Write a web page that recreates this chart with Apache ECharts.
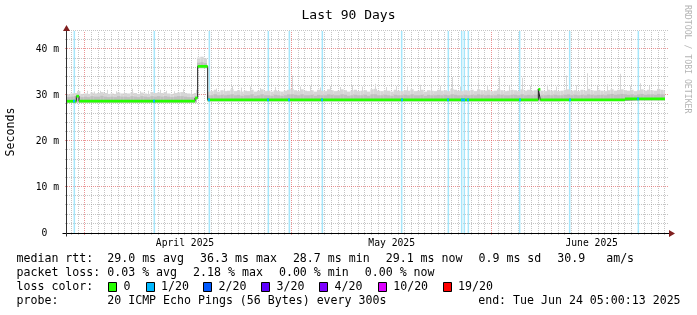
<!DOCTYPE html>
<html><head><meta charset="utf-8">
<script src="https://cdn.jsdelivr.net/npm/echarts@6/dist/echarts.min.js"></script>
<style>html,body{margin:0;padding:0;background:#fff}#c{width:697px;height:315px}</style>
</head><body><div id="c"></div><script>
// ---------------- data (x in days since graph start, y in ms) ----------------
const monthLabels = ['April 2025', 'May 2025', 'June 2025'];
const monthLabelDays = [17.7, 48.7, 78.7];
const monthLineDays = [2.6, 33.6, 63.6];
const yTickVals = [0, 10, 20, 30, 40];
const lossDays = [1.1, 13.1, 21.35, 30.2, 33.35, 38.3, 50.2, 57.2, 59.2, 59.6, 60.2, 67.9, 75.4, 85.7];
const medTimes = [0, 1.4, 1.8, 19.2, 19.6, 21.1, 70.7, 71.0, 83.7, 89.7];
const medVals  = [28.7, 29.8, 28.7, 29.4, 36.3, 29.0, 31.3, 29.0, 29.2, 29.2];
// smoke, half-day bins
const smokeHi = [
30.2,30.4,30.5,30.9,30.3,30.4,30.3,30.6,30.4,30.5,30.7,30.5,30.3,30.4,30.3,30.6,30.4,30.5,30.4,30.6,
30.5,30.3,30.6,30.4,30.3,30.7,30.5,30.6,30.5,30.7,30.4,30.3,30.5,30.6,30.7,30.5,30.4,30.3,30.5,38.2,
38.4,38.0,30.8,30.9,31.2,30.8,31.1,30.9,31.0,31.3,30.9,31.1,30.8,31.0,30.9,31.2,30.8,31.0,31.3,30.9,
31.0,30.8,31.1,30.9,30.8,31.0,31.2,31.4,31.1,30.9,31.3,31.0,30.9,31.1,30.8,31.2,31.0,30.9,31.3,31.1,
30.9,31.0,31.3,31.1,30.8,31.0,31.2,30.9,31.0,31.1,30.8,31.3,31.4,31.0,30.9,31.1,31.0,30.8,31.2,31.0,
30.9,31.1,31.0,31.3,30.9,31.0,31.2,30.8,31.1,31.0,30.9,31.2,31.0,31.1,30.9,31.4,31.2,31.0,30.9,31.1,
31.0,31.2,30.9,31.3,31.1,31.0,31.2,30.9,31.0,31.3,31.1,30.9,31.0,31.2,31.1,30.9,31.3,31.0,31.2,31.0,
31.1,31.4,31.0,30.9,31.2,31.0,31.1,30.9,31.0,31.2,31.3,31.0,31.1,30.9,31.2,31.0,31.4,31.1,31.0,31.2,
31.0,30.9,31.1,31.3,31.0,31.2,31.3,31.1,31.0,31.2,30.9,31.1,31.3,31.0,31.2,31.1,31.0,31.4,31.2,31.0];
const smokeMid = [
29.6,29.7,29.8,29.9,29.6,29.7,29.6,29.8,29.7,29.7,29.9,29.7,29.6,29.7,29.6,29.8,29.7,29.7,29.6,29.8,
29.7,29.6,29.8,29.7,29.6,29.8,29.7,29.8,29.7,29.8,29.7,29.6,29.7,29.8,29.8,29.7,29.6,29.6,29.7,37.1,
37.2,37.0,30.0,30.0,30.2,30.0,30.1,30.0,30.1,30.2,30.0,30.1,29.9,30.0,30.0,30.2,29.9,30.0,30.2,30.0,
30.0,29.9,30.1,30.0,29.9,30.0,30.2,30.2,30.1,30.0,30.2,30.0,30.0,30.1,29.9,30.1,30.0,30.0,30.2,30.1,
30.0,30.0,30.2,30.1,29.9,30.0,30.1,30.0,30.0,30.1,29.9,30.2,30.2,30.0,30.0,30.1,30.0,29.9,30.1,30.0,
30.0,30.1,30.0,30.2,30.0,30.0,30.1,29.9,30.1,30.0,30.0,30.1,30.0,30.1,30.0,30.2,30.1,30.0,30.0,30.1,
30.0,30.1,30.0,30.2,30.1,30.0,30.1,30.0,30.0,30.2,30.1,30.0,30.0,30.1,30.1,30.0,30.2,30.0,30.1,30.0,
30.1,30.2,30.0,30.0,30.1,30.0,30.1,30.0,30.0,30.1,30.2,30.0,30.1,30.0,30.1,30.0,30.2,30.1,30.0,30.1,
30.1,30.0,30.2,30.3,30.1,30.2,30.3,30.2,30.1,30.2,30.0,30.2,30.3,30.1,30.2,30.2,30.1,30.3,30.2,30.1];
const smokeLo = [
28.4,28.4,28.4,28.4,28.4,28.4,28.4,28.4,28.4,28.4,28.4,28.4,28.4,28.4,28.4,28.4,28.4,28.4,28.4,28.4,
28.4,28.4,28.4,28.4,28.4,28.4,28.4,28.4,28.4,28.4,28.4,28.4,28.4,28.4,28.4,28.4,28.4,28.4,28.4,35.9,
35.9,35.9,28.7,28.7,28.7,28.7,28.7,28.7,28.7,28.7,28.7,28.7,28.7,28.7,28.7,28.7,28.7,28.7,28.7,28.7,
28.7,28.7,28.7,28.7,28.7,28.7,28.7,28.7,28.7,28.7,28.7,28.7,28.7,28.7,28.7,28.7,28.7,28.7,28.7,28.7,
28.7,28.7,28.7,28.7,28.7,28.7,28.7,28.7,28.7,28.7,28.7,28.7,28.7,28.7,28.7,28.7,28.7,28.7,28.7,28.7,
28.7,28.7,28.7,28.7,28.7,28.7,28.7,28.7,28.7,28.7,28.7,28.7,28.7,28.7,28.7,28.7,28.7,28.7,28.7,28.7,
28.7,28.7,28.7,28.7,28.7,28.7,28.7,28.7,28.7,28.7,28.7,28.7,28.7,28.7,28.7,28.7,28.7,28.7,28.7,28.7,
28.7,28.7,28.7,28.7,28.7,28.7,28.7,28.7,28.9,28.9,28.9,28.9,28.9,28.9,28.9,28.9,28.9,28.9,28.9,28.9,
28.9,28.9,28.9,28.9,28.9,28.9,28.9,28.9,28.9,28.9,28.9,28.9,28.9,28.9,28.9,28.9,28.9,28.9,28.9,28.9];
const spikeDays = [3.0,4.1,5.0,6.0,7.3,8.5,9.75,11.0,12.2,13.9,14.9,16.0,17.4,18.6,19.3,
  22.4,23.5,24.75,26.1,27.5,29.0,31.2,33.75,35.0,36.4,38.0,39.5,41.0,42.7,44.3,46.2,47.8,49.3,51.0,
  53.0,54.6,56.0,57.8,59.0,61.6,63.0,64.8,66.3,68.25,69.5,72.0,73.4,74.85,76.4,78.0,79.5,81.0,82.95,
  84.5,86.0,87.3,88.65];
const spikeVals = [31.0,30.8,31.0,31.2,30.9,30.8,31.4,30.9,31.0,31.2,31.0,30.9,31.3,30.9,31.2,
  31.5,31.6,32.0,31.7,31.9,31.6,31.8,34.3,31.9,32.1,31.7,32.0,31.8,32.2,31.9,32.5,31.8,32.0,31.9,
  32.3,31.8,32.1,34.0,31.9,33.0,32.2,33.9,32.0,33.8,32.1,32.3,31.9,34.3,32.2,34.8,32.0,32.4,34.7,
  32.1,32.6,32.0,32.6];
const lossColorLabels = ['0', '1/20', '2/20', '3/20', '4/20', '10/20', '19/20'];
const lossColors = ['#26ff00', '#00b8ff', '#0059ff', '#5e00ff', '#7e00ff', '#dd00ff', '#ff0000'];
// legend rows: [text, start column]
const legendRow1 = [['median rtt:  29.0 ms avg', 0], ['36.3 ms max', 26], ['28.7 ms min', 39], ['29.1 ms now', 52], ['0.9 ms sd', 65], ['30.9   am/s', 76]];
const legendRow2 = [['packet loss: 0.03 % avg', 0], ['2.18 % max', 25], ['0.00 % min', 37], ['0.00 % now', 49]];
const legendRow3 = [['loss color:', 0]];
const legendRow4 = [['probe:       20 ICMP Echo Pings (56 Bytes) every 300s', 0]];
const endText = 'end: Tue Jun 24 05:00:13 2025';
const titleText = 'Last 90 Days';
const yName = 'Seconds';
const watermark = 'RRDTOOL / TOBI OETIKER';

// ---------------- layout ----------------
const X_MAX = 90, Y_MAX = 44, DATA_END = 89.7;
const MONO = '"DejaVu Sans Mono", monospace';
const GRID_COL = 'rgba(150,150,150,0.55)';
const MGRID_COL = 'rgba(222,79,79,0.6)';
const SMOKE_LIGHT = '#d6d6d6', SMOKE_MID = '#bfbfbf';
const LOSSBG = '#a6e6fb';

const chart = echarts.init(document.getElementById('c'), null, {renderer: 'canvas'});

const smokeItems = [];
for (let i = 0; i < smokeHi.length; i++) {
  const t0 = i / 2, t1 = Math.min(i / 2 + 0.5, DATA_END);
  smokeItems.push({lo: smokeLo[i], mid: smokeMid[i], hi: smokeHi[i], t0, t1});
}
const lightData = smokeItems.map(s => [s.t0, s.t1, s.lo, s.hi]);
const midData = smokeItems.map(s => [s.t0, s.t1, s.lo, s.mid]);
const spikeData = spikeDays.map((d, i) => [d, spikeVals[i]]);
const medPairs = medTimes.map((t, i) => [t, medVals[i]]);
const medBand = [];
for (let i = 0; i < medTimes.length - 1; i++) medBand.push([medTimes[i], medTimes[i + 1], medVals[i]]);
function medAt(t) { let v = medVals[0]; for (let i = 0; i < medTimes.length; i++) if (medTimes[i] <= t) v = medVals[i]; return v; }
const lossMed = lossDays.map(d => [d, medAt(d)]);

function rectRender(color) {
  return function (params, api) {
    const a = api.coord([api.value(0), api.value(3)]);
    const b = api.coord([api.value(1), api.value(2)]);
    return {type: 'rect', shape: {x: a[0], y: a[1], width: Math.max(b[0] - a[0], 0.6), height: b[1] - a[1]},
      style: {fill: color}};
  };
}
const HALF = 0.3;
function bandRender(params, api) {
  const a = api.coord([api.value(0), api.value(2) + HALF]);
  const b = api.coord([api.value(1), api.value(2) - HALF]);
  return {type: 'rect', shape: {x: a[0], y: a[1], width: b[0] - a[0], height: b[1] - a[1]}, style: {fill: lossColors[0]}};
}
function spikeRender(params, api) {
  const top = api.coord([api.value(0), api.value(1)]);
  const bot = api.coord([api.value(0), 29.5]);
  return {type: 'rect', shape: {x: Math.round(top[0]), y: top[1], width: 1, height: bot[1] - top[1]}, style: {fill: SMOKE_LIGHT}};
}
function lossRender(params, api) {
  const p = api.coord([api.value(0), api.value(1)]);
  const h = api.size([0, HALF * 2])[1];
  return {type: 'rect', shape: {x: Math.round(p[0]) - 1, y: p[1] - h / 2, width: 2, height: h}, style: {fill: lossColors[1]}};
}
// grid lines: [orient (0 = horizontal, 1 = vertical), value, major]
function gridRender(params, api) {
  const cs = params.coordSys;
  const orient = api.value(0), v = api.value(1), major = api.value(2);
  const style = {stroke: major ? MGRID_COL : GRID_COL, lineWidth: 1, lineDash: [1, 1]};
  if (orient === 0) {
    const y = Math.round(api.coord([0, v])[1]) - 0.5;
    return {type: 'line', shape: {x1: cs.x - 2, y1: y, x2: cs.x + cs.width + 2, y2: y}, style};
  }
  const x = Math.round(api.coord([v, 0])[0]) + 0.5;
  return {type: 'line', shape: {x1: x, y1: cs.y + cs.height + 2, x2: x, y2: cs.y}, style};
}
function lossBgRender(params, api) {
  const cs = params.coordSys;
  const x = api.coord([api.value(0), 0])[0];
  return {type: 'rect', shape: {x: x - 0.75, y: cs.y, width: 1.5, height: cs.height}, style: {fill: LOSSBG}};
}

const gridData = [];
for (let v = 2; v <= Y_MAX; v += 2) if (v % 10 !== 0) gridData.push([0, v, 0]);
for (let d = 0; d < X_MAX - 0.6; d += 1) {
  const day = +(d + 0.6).toFixed(2);
  if (!monthLineDays.some(m => Math.abs(m - day) < 1e-6)) gridData.push([1, day, 0]);
}
yTickVals.filter(v => v > 0).forEach(v => gridData.push([0, v, 1]));
monthLineDays.forEach(d => gridData.push([1, d, 1]));

const option = {
  animation: false,
  backgroundColor: '#ffffff',
  title: {text: titleText, left: 'center', top: 4,
    textStyle: {fontFamily: MONO, fontSize: 13, fontWeight: 'normal', color: '#000'}},
  grid: {left: 67, right: 30, top: 31, bottom: 82},
  xAxis: {type: 'value', min: 0, max: X_MAX,
    axisLine: {show: false},
    axisTick: {show: false}, splitLine: {show: false},
    axisLabel: {customValues: monthLabelDays, margin: 5, fontFamily: MONO, fontSize: 9.7, color: '#000',
      formatter: v => { const i = monthLabelDays.findIndex(d => Math.abs(d - v) < 1e-6); return i >= 0 ? monthLabels[i] : ''; }}},
  yAxis: {type: 'value', min: 0, max: Y_MAX, interval: 10,
    axisLine: {show: false},
    axisTick: {show: false}, splitLine: {show: false},
    axisLabel: {margin: 8, fontFamily: MONO, fontSize: 9.7, color: '#000', showMaxLabel: false,
      formatter: v => v === 0 ? '0  ' : (v % 10 === 0 ? v + ' m' : '')}},
  series: [
    {type: 'custom', z: 1, renderItem: gridRender, data: gridData, silent: true, encode: {x: -1, y: -1}},
    {type: 'custom', z: 2, renderItem: lossBgRender, data: lossDays.map(d => [d]), silent: true, encode: {x: 0}},
    {type: 'custom', z: 3, renderItem: spikeRender, data: spikeData, encode: {x: 0, y: 1}, silent: true},
    {type: 'custom', z: 4, renderItem: rectRender(SMOKE_LIGHT), data: lightData, encode: {x: [0, 1], y: [2, 3]}, silent: true},
    {type: 'custom', z: 5, renderItem: rectRender(SMOKE_MID), data: midData, encode: {x: [0, 1], y: [2, 3]}, silent: true},
    {type: 'line', z: 6, step: 'end', data: medPairs, symbol: 'none', silent: true,
      lineStyle: {color: '#202020', width: 1}},
    {type: 'custom', z: 7, renderItem: bandRender, data: medBand, encode: {x: [0, 1], y: 2}, silent: true},
    {type: 'custom', z: 8, renderItem: lossRender, data: lossMed, encode: {x: 0, y: 1}, silent: true}
  ]
};
chart.setOption(option);

// decorations: axis lines, arrows, texts, legend
const o = chart.convertToPixel({gridIndex: 0}, [0, 0]);
const e = chart.convertToPixel({gridIndex: 0}, [X_MAX, Y_MAX]);
const ARROW = '#801f1f';
const FS = 11.6, CW = FS * 0.6021, GAP = 2;
const g = [];
const ay = Math.round(o[1]) + 0.5, ax = Math.round(o[0]) - 0.5;
g.push({type: 'line', shape: {x1: ax - 4, y1: ay, x2: e[0] + 3, y2: ay}, style: {stroke: '#000', lineWidth: 1}, z: 50});
g.push({type: 'line', shape: {x1: ax, y1: ay + 3, x2: ax, y2: e[1] - 2}, style: {stroke: '#303030', lineWidth: 1}, z: 50});
g.push({type: 'polygon', shape: {points: [[e[0] + 2, ay - 3.5], [e[0] + 8, ay], [e[0] + 2, ay + 3.5]]}, style: {fill: ARROW}, z: 51});
g.push({type: 'polygon', shape: {points: [[ax - 3.5, e[1]], [ax, e[1] - 6], [ax + 3.5, e[1]]]}, style: {fill: ARROW}, z: 51});
g.push({type: 'text', x: 11, y: 132, rotation: Math.PI / 2,
  style: {text: yName, font: FS + 'px ' + MONO, fill: '#000', align: 'center', verticalAlign: 'middle'}});
g.push({type: 'text', x: 687, y: 5, rotation: -Math.PI / 2,
  style: {text: watermark, font: '8.2px ' + MONO, fill: '#b4b4b4', align: 'left', verticalAlign: 'middle'}});
const L = 16.5;
[[legendRow1, 259], [legendRow2, 273], [legendRow3, 287], [legendRow4, 301]].forEach(([row, y]) => {
  row.forEach(([t, col], k) => {
    g.push({type: 'text', x: L + col * CW + k * GAP, y: y, style: {text: t, font: FS + 'px ' + MONO, fill: '#000', align: 'left', verticalAlign: 'middle'}});
  });
});
g.push({type: 'text', x: 680.6, y: 301, style: {text: endText, font: FS + 'px ' + MONO, fill: '#000', align: 'right', verticalAlign: 'middle'}});
const boxX = [108, 145.5, 203, 261, 319, 377.7, 442.6];
lossColorLabels.forEach((lab, i) => {
  g.push({type: 'rect', shape: {x: Math.round(boxX[i]) + 0.5, y: 282.5, width: 8, height: 9}, style: {fill: lossColors[i], stroke: '#000', lineWidth: 1}});
  g.push({type: 'text', x: boxX[i] + 15.5, y: 287, style: {text: lab, font: FS + 'px ' + MONO, fill: '#000', align: 'left', verticalAlign: 'middle'}});
});
chart.setOption({graphic: g});
</script></body></html>
